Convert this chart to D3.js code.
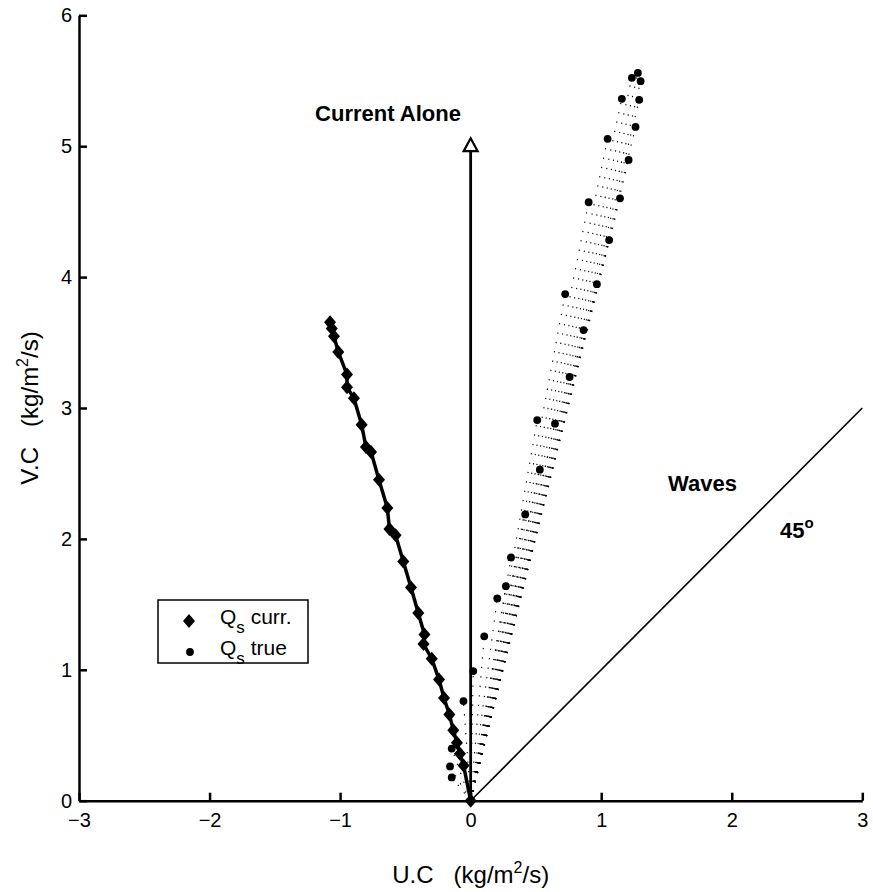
<!DOCTYPE html>
<html>
<head>
<meta charset="utf-8">
<script src="https://cdn.jsdelivr.net/npm/d3@7"></script>
<style>
  body { margin: 0; background: #fff; }
  svg { font-family: "Liberation Sans", Arial, Helvetica, sans-serif; }
</style>
</head>
<body>
<svg width="873" height="892"></svg>
<script>
// Q_s curr. (diamonds, solid line) - U.C and V.C in kg/m2/s
var currU = [-1.077, -1.064, -1.047, -1.014, -0.947, -0.947, -0.894, -0.835, -0.802, -0.763,
             -0.702, -0.638, -0.622, -0.575, -0.516, -0.457, -0.401, -0.354, -0.361, -0.298,
             -0.242, -0.204, -0.163, -0.133, -0.105, -0.082, -0.054, 0];
var currV = [3.656, 3.607, 3.549, 3.428, 3.255, 3.159, 3.074, 2.872, 2.702, 2.664,
             2.451, 2.237, 2.076, 2.027, 1.828, 1.629, 1.434, 1.270, 1.197, 1.084,
             0.925, 0.784, 0.659, 0.539, 0.443, 0.358, 0.268, 0];

// Q_s true (dots, dotted lines from origin)
var trueU = [1.281, 1.235, 1.302, 1.158, 1.291, 1.263, 1.049, 1.210, 1.144, 0.904,
             1.061, 0.967, 0.724, 0.865, 0.758, 0.510, 0.646, 0.530, 0.418, 0.309,
             0.270, 0.204, 0.104, 0.020, -0.055, -0.145, -0.158, -0.145];
var trueV = [5.560, 5.522, 5.497, 5.362, 5.354, 5.147, 5.056, 4.895, 4.602, 4.572,
             4.283, 3.946, 3.870, 3.595, 3.237, 2.908, 2.880, 2.529, 2.187, 1.858,
             1.639, 1.545, 1.256, 0.990, 0.761, 0.398, 0.262, 0.178];

// reference vectors
var currentAlone = [0, 5];
var waves = [3, 3];

var xTicks = [-3, -2, -1, 0, 1, 2, 3];
var yTicks = [0, 1, 2, 3, 4, 5, 6];

var svg = d3.select("svg");

var x = d3.scaleLinear().domain([-3, 3]).range([79, 862.3]),
    y = d3.scaleLinear().domain([0, 6]).range([800.7, 15.3]);

//Axes, ticks pointing inward
var xAxis = svg.append("g")
    .attr("transform", "translate(0," + y(0) + ")")
    .call(d3.axisBottom(x).tickValues(xTicks).tickFormat(d3.format("d"))
        .tickSizeInner(-8).tickSizeOuter(0).tickPadding(12));
var yAxis = svg.append("g")
    .attr("transform", "translate(" + x(-3) + ",0)")
    .call(d3.axisLeft(y).tickValues(yTicks).tickFormat(d3.format("d"))
        .tickSizeInner(-8).tickSizeOuter(0).tickPadding(7));

[xAxis, yAxis].forEach(function(a) {
    a.select(".domain").attr("stroke", "#000").attr("stroke-width", 2.5);
    a.selectAll(".tick line").attr("stroke", "#000").attr("stroke-width", 2.5);
    a.selectAll(".tick text").attr("fill", "#000").style("font-size", "20px");
});

//Dotted lines from origin to each true point
var pts = trueU.map(function(u, i) { return {u: u, v: trueV[i]}; });
svg.append("g").selectAll("line")
    .data(pts)
    .enter().append("line")
    .attr("x1", x(0)).attr("y1", y(0))
    .attr("x2", function(d) { return x(d.u); })
    .attr("y2", function(d) { return y(d.v); })
    .attr("stroke", "#000")
    .attr("stroke-width", 1.1)
    .attr("stroke-dasharray", "1.3,8.2");

//Waves direction, 45 degrees
svg.append("line")
    .attr("x1", x(0)).attr("y1", y(0))
    .attr("x2", x(waves[0])).attr("y2", y(waves[1]))
    .attr("stroke", "#000").attr("stroke-width", 1.6);

//Current alone arrow
svg.append("line")
    .attr("x1", x(0)).attr("y1", y(0))
    .attr("x2", x(currentAlone[0])).attr("y2", y(currentAlone[1]))
    .attr("stroke", "#000").attr("stroke-width", 2.8);
svg.append("path")
    .attr("transform", "translate(" + x(currentAlone[0]) + "," + y(currentAlone[1]) + ")")
    .attr("d", "M0,-8L7,5L-7,5Z")
    .attr("fill", "#fff").attr("stroke", "#000").attr("stroke-width", 2.2);

//Q_s curr. line and diamonds
var cur = currU.map(function(u, i) { return {u: u, v: currV[i]}; });
var line = d3.line().x(function(d) { return x(d.u); }).y(function(d) { return y(d.v); });
svg.append("path")
    .datum(cur)
    .attr("d", line)
    .attr("fill", "none").attr("stroke", "#000").attr("stroke-width", 3.5)
    .attr("stroke-linejoin", "round");

function diamond(w, h) {
    var p = d3.path();
    p.moveTo(0, -h); p.lineTo(w, 0); p.lineTo(0, h); p.lineTo(-w, 0); p.closePath();
    return p.toString();
}

svg.append("g").selectAll("path")
    .data(cur)
    .enter().append("path")
    .attr("transform", function(d) { return "translate(" + x(d.u) + "," + y(d.v) + ")"; })
    .attr("d", diamond(6, 7))
    .attr("fill", "#000");

//Q_s true dots
svg.append("g").selectAll("circle")
    .data(pts)
    .enter().append("circle")
    .attr("cx", function(d) { return x(d.u); })
    .attr("cy", function(d) { return y(d.v); })
    .attr("r", 3.9)
    .attr("fill", "#000");

//Annotations
svg.append("text")
    .attr("x", 388).attr("y", 121)
    .attr("text-anchor", "middle")
    .style("font-size", "22px").style("font-weight", "bold")
    .text("Current Alone");

svg.append("text")
    .attr("x", 668).attr("y", 491)
    .style("font-size", "22px").style("font-weight", "bold")
    .text("Waves");

var deg = svg.append("text")
    .attr("x", 780).attr("y", 538)
    .style("font-size", "22px").style("font-weight", "bold");
deg.append("tspan").text("45");
deg.append("tspan").attr("dy", "-10").style("font-size", "15px").text("o");

//Axis titles
var xt = svg.append("text")
    .attr("x", 470.7).attr("y", 883)
    .attr("text-anchor", "middle")
    .style("font-size", "24px");
xt.append("tspan").text("U.C\u00a0\u00a0\u00a0(kg/m");
xt.append("tspan").attr("dy", "-10").style("font-size", "16px").text("2");
xt.append("tspan").attr("dy", "10").text("/s)");

var yt = svg.append("text")
    .attr("transform", "translate(38," + y(3) + ") rotate(-90)")
    .attr("text-anchor", "middle")
    .style("font-size", "24px");
yt.append("tspan").text("V.C\u00a0\u00a0\u00a0(kg/m");
yt.append("tspan").attr("dy", "-10").style("font-size", "16px").text("2");
yt.append("tspan").attr("dy", "10").text("/s)");

//Legend
var legend = svg.append("g");
legend.append("rect")
    .attr("x", 158).attr("y", 600)
    .attr("width", 150).attr("height", 63)
    .attr("fill", "#fff").attr("stroke", "#000").attr("stroke-width", 1.5);

legend.append("path")
    .attr("transform", "translate(189,621)")
    .attr("d", diamond(6, 7))
    .attr("fill", "#000");
legend.append("circle")
    .attr("cx", 190).attr("cy", 652).attr("r", 3.9).attr("fill", "#000");

var labels = ["curr.", "true"];
labels.forEach(function(lab, i) {
    var t = legend.append("text")
        .attr("x", 220).attr("y", 624 + i * 31)
        .style("font-size", "21px");
    t.append("tspan").text("Q");
    t.append("tspan").attr("dy", "9").style("font-size", "17px").text("s");
    t.append("tspan").attr("dy", "-9").text("\u00a0" + lab);
});
</script>
</body>
</html>
